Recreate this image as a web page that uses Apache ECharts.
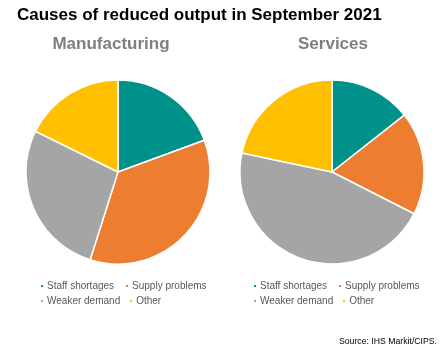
<!DOCTYPE html>
<html>
<head>
<meta charset="utf-8">
<script src="https://cdn.jsdelivr.net/npm/echarts@6/dist/echarts.min.js"></script>
<style>
  html, body { margin: 0; padding: 0; background: #fff; }
  #chart { width: 444px; height: 351px; }
</style>
</head>
<body>
<div id="chart"></div>
<script>
// shares of each cause, % of respondents
const causes = ['Staff shortages', 'Supply problems', 'Weaker demand', 'Other']
const manufacturing = [19.4, 35.5, 27.4, 17.7]
const services = [14.4, 18.1, 45.8, 21.7]
const panelTitles = ['Manufacturing', 'Services']

const colors = ['#00928a', '#ed7d31', '#a5a5a5', '#ffc000']
const font = 'Liberation Sans, Arial, sans-serif'

const chart = echarts.init(document.getElementById('chart'))

const pie = (name, values, cx) => ({
  name,
  type: 'pie',
  center: [cx, 172],
  radius: 92,
  startAngle: 90,
  clockwise: true,
  label: { show: false },
  labelLine: { show: false },
  emphasis: { disabled: true },
  silent: true,
  itemStyle: { borderColor: '#fff', borderWidth: 1.5 },
  data: causes.map((c, i) => ({ name: c, value: values[i] })),
})

const legendRow = (left, top, names, gap) => ({
  left,
  top,
  data: names,
  icon: 'rect',
  itemWidth: 4,
  itemHeight: 4,
  itemGap: gap,
  padding: 0,
  selectedMode: false,
  textStyle: { fontFamily: font, fontSize: 10, color: '#595959', padding: [0, 0, 0, -2] },
})

chart.setOption({
  animation: false,
  color: colors,
  title: {
    text: 'Causes of reduced output in September 2021',
    left: 12,
    top: 2,
    textStyle: { fontFamily: font, fontSize: 17, fontWeight: 'bold', color: '#000' },
  },
  graphic: [
    { type: 'text', x: 111, y: 44, style: { text: panelTitles[0], textAlign: 'center', textVerticalAlign: 'middle', font: 'bold 17px ' + font, fill: '#7f7f7f' } },
    { type: 'text', x: 333, y: 44, style: { text: panelTitles[1], textAlign: 'center', textVerticalAlign: 'middle', font: 'bold 17px ' + font, fill: '#7f7f7f' } },
    { type: 'text', x: 437, y: 342, style: { text: 'Source: IHS Markit/CIPS.', textAlign: 'right', textVerticalAlign: 'middle', font: '8.7px ' + font, fill: '#000' } },
  ],
  legend: [
    legendRow(39, 281, causes.slice(0, 2), 10),
    legendRow(39, 296, causes.slice(2, 4), 8),
    legendRow(252, 281, causes.slice(0, 2), 10),
    legendRow(252, 296, causes.slice(2, 4), 8),
  ],
  series: [
    pie(panelTitles[0], manufacturing, 118),
    pie(panelTitles[1], services, 332),
  ],
})
</script>
</body>
</html>
